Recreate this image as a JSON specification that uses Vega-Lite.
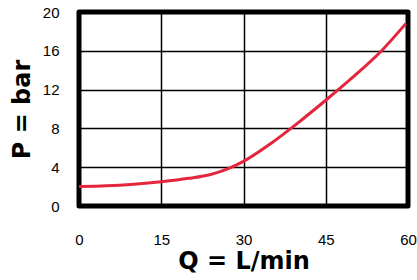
{
  "$schema": "https://vega.github.io/schema/vega-lite/v6.json",
  "width": 329,
  "height": 194,
  "autosize": {"type": "none"},
  "padding": {"left": 79, "top": 12, "right": 9, "bottom": 74},
  "background": "white",
  "config": {
    "view": {"stroke": "#000", "strokeWidth": 5, "strokeJoin": "round"},
    "axis": {
      "grid": true,
      "gridColor": "#000",
      "gridWidth": 1.5,
      "gridOpacity": 1,
      "domain": false,
      "ticks": false,
      "labelFlush": false,
      "labelFont": "Liberation Sans",
      "labelFontSize": 15,
      "labelColor": "#000",
      "titleFont": "DejaVu Sans",
      "titleFontSize": 24,
      "titleFontWeight": "bold",
      "titleColor": "#000"
    }
  },
  "data": {
    "values": [
      {"Q": 0, "P": 2.0},
      {"Q": 5, "P": 2.08},
      {"Q": 10, "P": 2.25},
      {"Q": 15, "P": 2.5},
      {"Q": 20, "P": 2.85},
      {"Q": 24, "P": 3.25},
      {"Q": 27, "P": 3.8},
      {"Q": 30, "P": 4.6},
      {"Q": 35, "P": 6.45},
      {"Q": 40, "P": 8.6},
      {"Q": 45, "P": 10.9},
      {"Q": 50, "P": 13.3},
      {"Q": 55, "P": 15.9},
      {"Q": 59.6, "P": 18.8}
    ]
  },
  "mark": {"type": "line", "color": "#e3263c", "strokeWidth": 3, "interpolate": "monotone"},
  "encoding": {
    "x": {
      "field": "Q",
      "type": "quantitative",
      "scale": {"domain": [0, 60], "nice": false},
      "axis": {"values": [0, 15, 30, 45, 60], "title": "Q = L/min", "labelPadding": 26, "titlePadding": 2}
    },
    "y": {
      "field": "P",
      "type": "quantitative",
      "scale": {"domain": [0, 20], "nice": false},
      "axis": {"values": [0, 4, 8, 12, 16, 20], "title": "P = bar", "labelPadding": 20, "titlePadding": 8}
    }
  }
}
